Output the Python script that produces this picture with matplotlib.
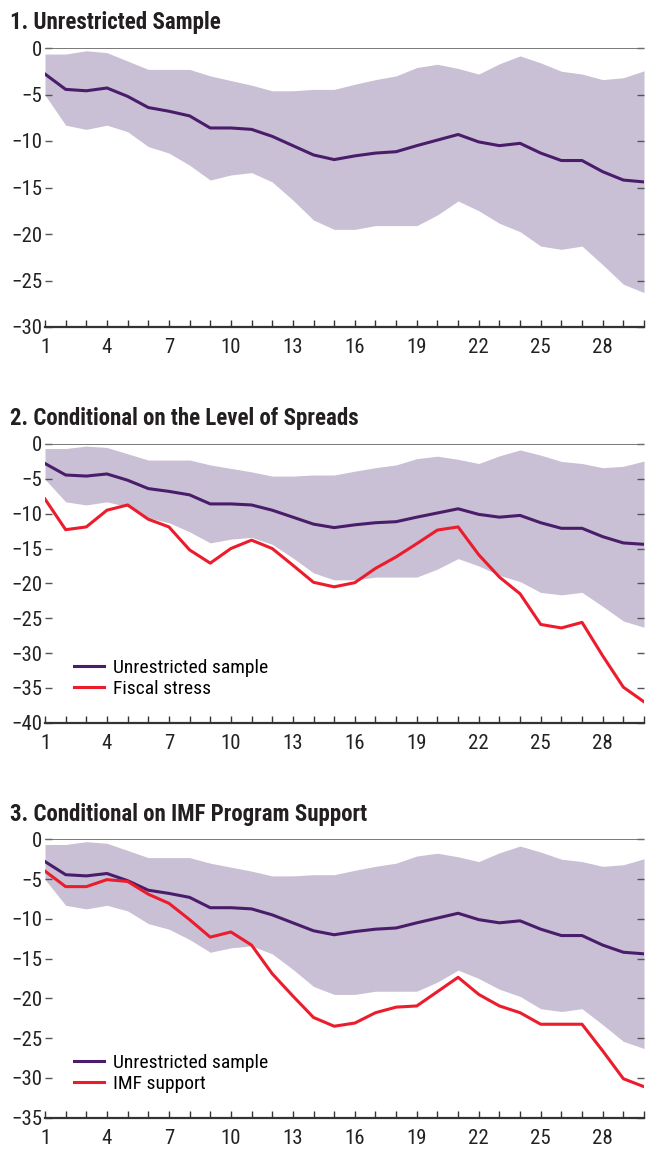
import numpy as np
import matplotlib
matplotlib.use("Agg")
import matplotlib.pyplot as plt
from matplotlib import font_manager

# buscar una fuente estrecha (parecida a Univers Condensed)
fuentes = font_manager.fontManager.ttflist
nombres = {f.name for f in fuentes}
estirada = "normal"
if "Liberation Sans Narrow" in nombres:
    fuente = ["Liberation Sans Narrow", "DejaVu Sans"]
elif "Roboto Condensed" in nombres:
    fuente = ["Roboto Condensed", "DejaVu Sans"]
elif any(f.name == "DejaVu Sans" and f.stretch == "condensed" for f in fuentes):
    fuente = ["DejaVu Sans"]
    estirada = "condensed"
else:
    fuente = ["Liberation Sans", "DejaVu Sans"]
plt.rcParams["font.family"] = fuente
plt.rcParams["font.stretch"] = estirada

## datos
periodos = np.arange(1, 31)
sin_restriccion = [-2.8, -4.45, -4.6, -4.3, -5.2, -6.4, -6.8, -7.3, -8.6, -8.6,
                   -8.75, -9.5, -10.5, -11.5, -12.0, -11.6, -11.3, -11.15, -10.5, -9.9,
                   -9.3, -10.1, -10.5, -10.25, -11.3, -12.1, -12.1, -13.3, -14.2, -14.4]
banda_sup = [-0.65, -0.65, -0.3, -0.5, -1.4, -2.3, -2.3, -2.3, -3.0, -3.5,
             -4.0, -4.6, -4.6, -4.45, -4.45, -3.9, -3.4, -3.0, -2.1, -1.75,
             -2.2, -2.8, -1.7, -0.85, -1.6, -2.5, -2.8, -3.4, -3.2, -2.45]
banda_inf = [-5.05, -8.3, -8.75, -8.3, -9.0, -10.6, -11.3, -12.6, -14.2, -13.65,
             -13.4, -14.4, -16.35, -18.5, -19.5, -19.5, -19.1, -19.1, -19.1, -17.95,
             -16.45, -17.5, -18.85, -19.75, -21.3, -21.65, -21.3, -23.3, -25.4, -26.3]
estres_fiscal = [-7.9, -12.3, -11.9, -9.5, -8.75, -10.8, -11.9, -15.2, -17.1, -15.0,
                 -13.8, -15.0, -17.4, -19.85, -20.5, -19.9, -17.85, -16.2, -14.3, -12.35,
                 -11.9, -15.9, -19.1, -21.5, -25.9, -26.4, -25.6, -30.4, -34.9, -37.0]
apoyo_fmi = [-4.0, -5.95, -5.95, -5.07, -5.3, -6.9, -8.05, -10.1, -12.3, -11.65,
             -13.3, -16.9, -19.7, -22.4, -23.5, -23.1, -21.8, -21.1, -20.95, -19.15,
             -17.35, -19.5, -20.95, -21.8, -23.25, -23.25, -23.25, -26.6, -30.1, -31.1]

titulos = ["1. Unrestricted Sample",
           "2. Conditional on the Level of Spreads",
           "3. Conditional on IMF Program Support"]
ymins = [-30, -40, -35]
condicional = [None, estres_fiscal, apoyo_fmi]
etiquetas = [None, "Fiscal stress", "IMF support"]
xticklabels = [1, 4, 7, 10, 13, 16, 19, 22, 25, 28]

morado = "#4a1d6b"
rojo = "#ec1c2c"
lila = "#c9c0d5"

W, H = 646, 1150
fig = plt.figure(figsize=(W / 100, H / 100), dpi=100)

# posiciones en pixeles: (arriba, abajo) de cada panel, y centro del titulo
paneles = [(48, 327, 23), (444, 722.7, 418), (839.3, 1117.7, 815)]
izq, der = 45, 644

for i in range(3):
    top, bot, ytit = paneles[i]
    ax = fig.add_axes([izq / W, 1 - bot / H, (der - izq) / W, (bot - top) / H])
    ax.fill_between(periodos, banda_inf, banda_sup, color=lila, lw=0, zorder=1)
    ax.plot(periodos, sin_restriccion, color=morado, lw=2.2, zorder=3,
            label="Unrestricted sample")
    if condicional[i] is not None:
        ax.plot(periodos, condicional[i], color=rojo, lw=2.2, zorder=4,
                label=etiquetas[i])
        ax.legend(loc="lower left", bbox_to_anchor=(0.036, 0.06), frameon=False,
                  fontsize=14, handlelength=1.5, handletextpad=0.5,
                  labelspacing=0.15, borderaxespad=0)
    ax.axhline(0, color="#6e6e6e", lw=1.3, zorder=2)
    ax.set_xlim(1, 30)
    ax.set_ylim(ymins[i], 0)
    for lado in ["left", "right", "top"]:
        ax.spines[lado].set_visible(False)
    ax.spines["bottom"].set_color("#333333")
    ax.spines["bottom"].set_linewidth(1.6)
    ax.set_xticks(periodos)
    ax.set_xticklabels([str(p) if p in xticklabels else "" for p in periodos])
    ax.set_yticks(np.arange(ymins[i], 1, 5))
    ax.tick_params(axis="x", direction="in", length=5, width=1, color="#333333",
                   labelsize=15, pad=8, labelcolor="#222222")
    ax.tick_params(axis="y", direction="in", length=5, width=1, color="#555555",
                   labelsize=15, pad=2, labelcolor="#222222", right=True)
    fig.text(10 / W, 1 - ytit / H, titulos[i], fontsize=16.5, fontweight="bold",
             va="center", ha="left", color="#231f20")

fig.savefig("out.png", dpi=100)
